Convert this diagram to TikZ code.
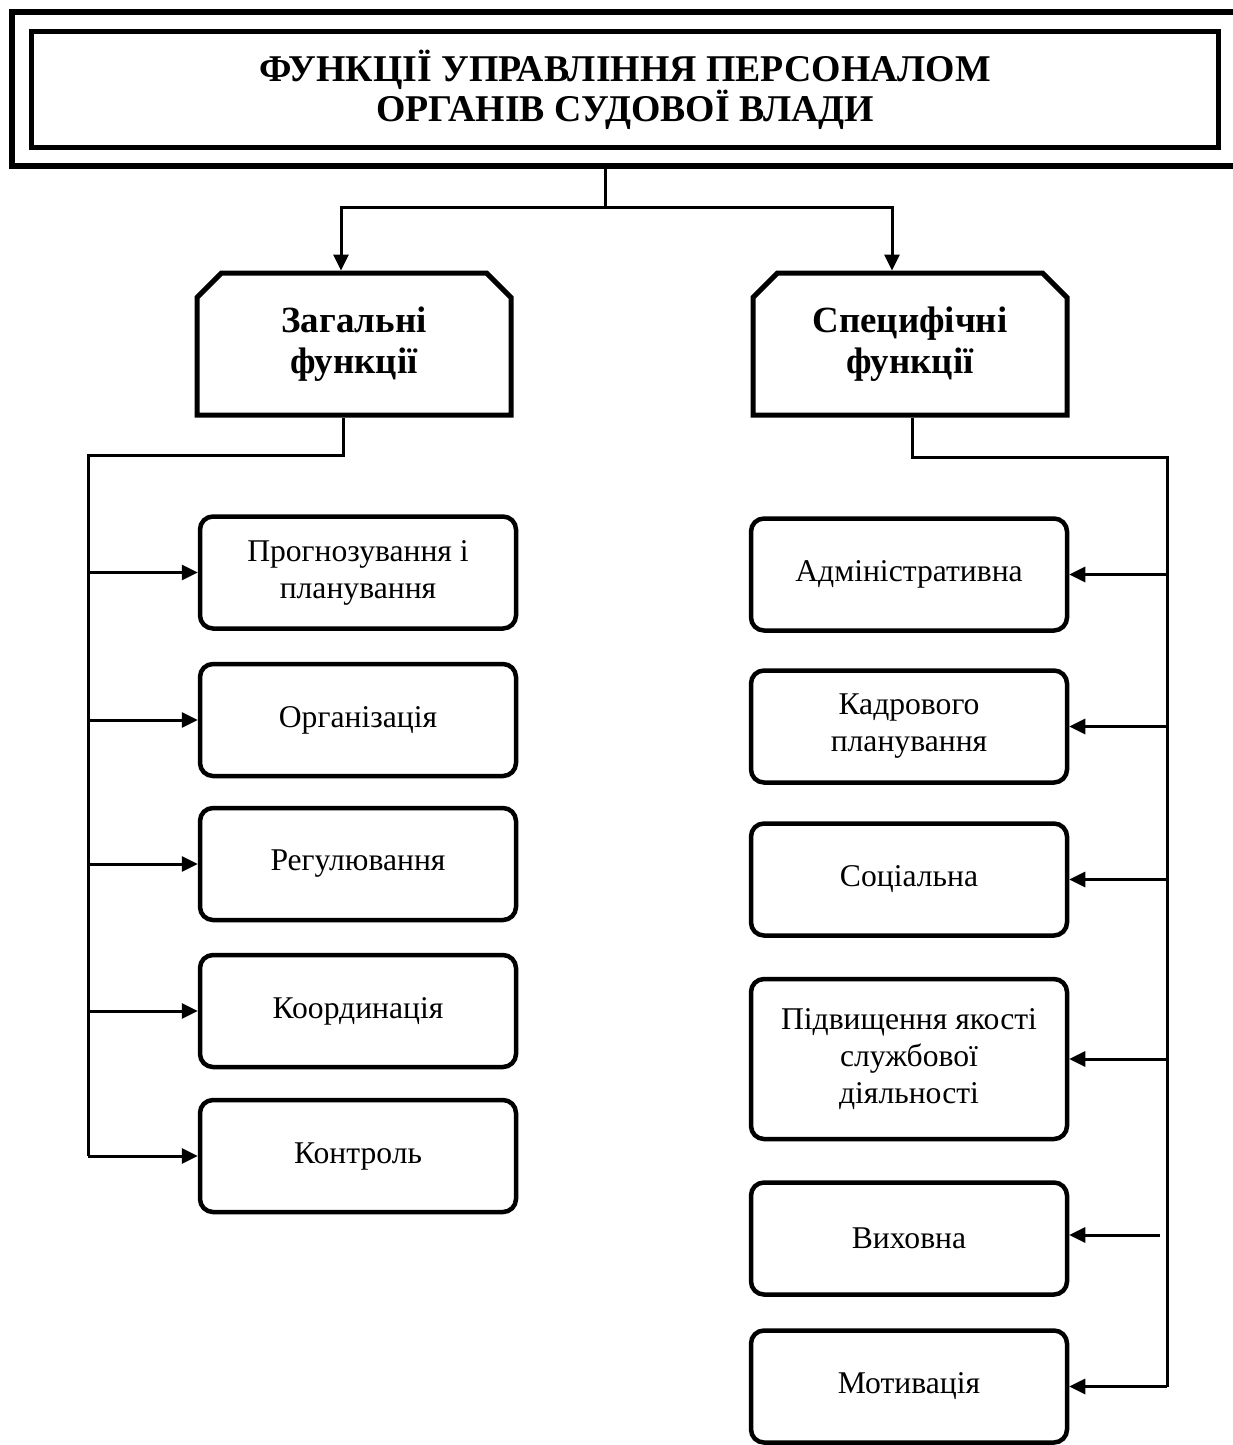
\documentclass[tikz,border=0pt]{standalone}
\usepackage{fontspec}
\setmainfont{Liberation Serif}
\usepackage{tikz}
\usetikzlibrary{shapes.misc, arrows.meta, positioning, calc}
\definecolor{mydark}{RGB}{0,0,0}
\tikzset{
  headbox/.style={rectangle, draw=mydark, line width=0.1cm,
    minimum width=23.75cm, minimum height=2.33cm, align=center,
    font=\fontsize{21.5}{22.8}\selectfont\bfseries},
  groupbox/.style={chamfered rectangle,
    chamfered rectangle corners={north west, north east},
    chamfered rectangle xsep=0.26cm, chamfered rectangle ysep=0.23cm,
    draw=mydark, line width=0.1cm, inner sep=0pt,
    minimum width=6.28cm, minimum height=2.84cm, align=center,
    font=\fontsize{21}{23.3}\selectfont\bfseries},
  funcbox/.style={rectangle, draw=mydark, line width=0.09cm,
    rounded corners=0.26cm, minimum width=6.32cm, minimum height=2.24cm,
    align=center, font=\fontsize{18}{21}\selectfont},
  arrow/.style={-{Triangle[length=0.32cm, width=0.3cm]}, line width=0.06cm, color=mydark},
  line/.style={line width=0.06cm, color=mydark}
}
\begin{document}
\begin{tikzpicture}[scale=1.0]
  \useasboundingbox (0,0) rectangle (24.64,-28.9);
  % Header
  \node[headbox] (head) at (12.5,-1.79) {ФУНКЦІЇ УПРАВЛІННЯ ПЕРСОНАЛОМ\\ОРГАНІВ СУДОВОЇ ВЛАДИ};
  \draw[line width=0.12cm] (25.0,-0.24) -- (0.24,-0.24) -- (0.24,-3.32) -- (25.0,-3.32);
  % Groups
  \node[groupbox] (gen) at (7.08,-6.88) {Загальні\\функції};
  \node[groupbox] (spec) at (18.2,-6.88) {Специфічні\\функції};
  \coordinate (top) at (12.1,-3.32);
  \coordinate (split) at (12.1,-4.16);
  \draw[line] (top) -- (split);
  \draw[arrow] (split) -| ([xshift=-0.26cm]gen.north);
  \draw[arrow] (split) -| ([xshift=-0.36cm]spec.north);
  % General functions
  \node[funcbox] (g1) at (7.16,-11.45) {Прогнозування і\\планування};
  \node[funcbox] (g2) at (7.16,-14.4) {Організація};
  \node[funcbox] (g3) at (7.16,-17.28) {Регулювання};
  \node[funcbox] (g4) at (7.16,-20.22) {Координація};
  \node[funcbox] (g5) at (7.16,-23.12) {Контроль};
  \coordinate (lbus) at (1.76,-9.1);
  \draw[line] ([xshift=-0.22cm]gen.south) |- (lbus) -- (lbus |- g5.west);
  \foreach \n in {g1,g2,g3,g4,g5}
    \draw[arrow] (lbus |- \n.west) -- (\n.west);
  % Specific functions
  \node[funcbox] (s1) at (18.18,-11.49) {Адміністративна};
  \node[funcbox] (s2) at (18.18,-14.53) {Кадрового\\планування};
  \node[funcbox] (s3) at (18.18,-17.59) {Соціальна};
  \node[funcbox, minimum height=3.2cm] (s4) at (18.18,-21.18) {Підвищення якості\\службової\\діяльності};
  \node[funcbox] (s5) at (18.18,-24.77) {Виховна};
  \node[funcbox] (s6) at (18.18,-27.73) {Мотивація};
  \coordinate (rbus) at (23.34,-9.14);
  \draw[line] ([xshift=0.04cm]spec.south) |- (rbus) -- (rbus |- s6.east);
  \foreach \n in {s1,s2,s3,s4,s6}
    \draw[arrow] (rbus |- \n.east) -- (\n.east);
  \coordinate (gap) at (23.2,-24.7);
  \draw[arrow] (gap) -- (gap -| s5.east);
\end{tikzpicture}
\end{document}
